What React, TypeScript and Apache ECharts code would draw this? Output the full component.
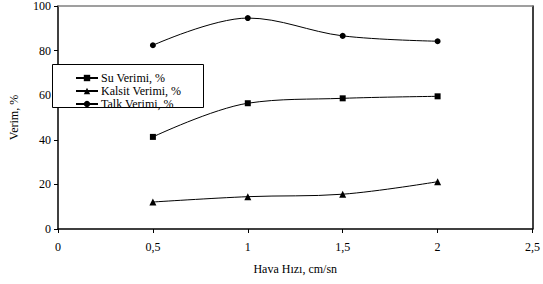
import React, { useEffect, useRef } from "react";
import * as echarts from "echarts";

const xValues = [0.5, 1, 1.5, 2];
const suVerimi = [41.3, 56.4, 58.6, 59.5];
const kalsitVerimi = [12.1, 14.5, 15.6, 21.2];
const talkVerimi = [82.4, 94.6, 86.6, 84.2];
const seriesNames = ["Su Verimi, %", "Kalsit Verimi, %", "Talk Verimi, %"];
const xTicks = [0, 0.5, 1, 1.5, 2, 2.5];
const yTicks = [0, 20, 40, 60, 80, 100];

const FONT = "serif";
const FS = 12;

export default function App() {
  const ref = useRef<HTMLDivElement>(null);
  useEffect(() => {
    if (!ref.current) return;
    const chart = echarts.init(ref.current, null, { renderer: "svg" });
    const pair = (ys: number[]) => xValues.map((x, i) => [x, ys[i]]);
    const lineSeries = (name: string, ys: number[], symbol: string, size: number) => ({
      name,
      type: "line",
      data: pair(ys),
      smooth: 0.35,
      symbol,
      symbolSize: size,
      itemStyle: { color: "#000" },
      lineStyle: { color: "#000", width: 1 },
      z: 3,
    });
    chart.setOption({
      animation: false,
      backgroundColor: "#fff",
      textStyle: { fontFamily: FONT, color: "#000" },
      grid: { left: 53, right: 7.5, top: 6, bottom: 55, containLabel: false },
      legend: {
        data: seriesNames,
        orient: "vertical",
        left: 75,
        top: 72,
        itemWidth: 22,
        itemHeight: 8,
        itemGap: 1,
        padding: 0,
        textStyle: { fontFamily: FONT, fontSize: FS, color: "#000", padding: [0, 0, 0, -2] },
        z: 10,
      },
      graphic: [
        {
          type: "rect",
          shape: { x: 52.5, y: 64.5, width: 151, height: 43 },
          style: { fill: "#fff", stroke: "#000", lineWidth: 1 },
          z: 5,
        },
      ],
      xAxis: [
        {
          type: "value",
          min: 0,
          max: 2.5,
          interval: 0.5,
          name: "Hava Hızı, cm/sn",
          nameLocation: "middle",
          nameGap: 34,
          nameTextStyle: { fontFamily: FONT, fontSize: FS, color: "#000" },
          axisLine: { show: true, onZero: false, lineStyle: { color: "#000", width: 1.5 } },
          axisTick: { show: true, length: 4, lineStyle: { color: "#000" } },
          axisLabel: {
            margin: 12,
            fontFamily: FONT,
            fontSize: FS,
            color: "#000",
            formatter: (v: number) => (xTicks.includes(v) ? String(v).replace(".", ",") : ""),
          },
          splitLine: { show: false },
        },
        {
          type: "value",
          position: "top",
          min: 0,
          max: 2.5,
          interval: 0.5,
          axisLine: { show: true, onZero: false, lineStyle: { color: "#808080", width: 1.5 } },
          axisTick: { show: false },
          axisLabel: { show: false },
          splitLine: { show: false },
        },
      ],
      yAxis: [
        {
          type: "value",
          min: 0,
          max: 100,
          interval: 20,
          name: "Verim, %",
          nameLocation: "middle",
          nameGap: 38,
          nameTextStyle: { fontFamily: FONT, fontSize: FS, color: "#000" },
          axisLine: { show: true, onZero: false, lineStyle: { color: "#000", width: 1.5 } },
          axisTick: { show: true, length: 4, lineStyle: { color: "#000" } },
          axisLabel: {
            margin: 7,
            fontFamily: FONT,
            fontSize: FS,
            color: "#000",
            formatter: (v: number) => (yTicks.includes(v) ? String(v) : ""),
          },
          splitLine: { show: false },
        },
        {
          type: "value",
          position: "right",
          min: 0,
          max: 100,
          interval: 20,
          axisLine: { show: true, onZero: false, lineStyle: { color: "#000", width: 1.5 } },
          axisTick: { show: false },
          axisLabel: { show: false },
          splitLine: { show: false },
        },
      ],
      series: [
        lineSeries(seriesNames[0], suVerimi, "rect", 6),
        lineSeries(seriesNames[1], kalsitVerimi, "triangle", 7),
        lineSeries(seriesNames[2], talkVerimi, "circle", 6),
      ],
    });
    return () => chart.dispose();
  }, []);
  return <div ref={ref} style={{ width: 543, height: 284, position: "absolute", left: 0, top: 0 }} />;
}
